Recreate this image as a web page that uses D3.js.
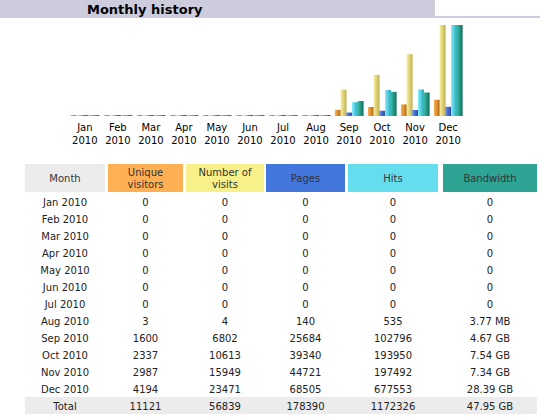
<!DOCTYPE html>
<html><head><meta charset="utf-8">
<script src="https://cdn.jsdelivr.net/npm/d3@7"></script>
<style>body{margin:0;background:#fff;font-family:"DejaVu Sans",Verdana,sans-serif}</style>
</head><body><svg id="c" width="540" height="420"></svg>
<script>
var months = ["Jan","Feb","Mar","Apr","May","Jun","Jul","Aug","Sep","Oct","Nov","Dec"];
var year = "2010";
var visitors = [0,0,0,0,0,0,0,3,1600,2337,2987,4194];
var visits = [0,0,0,0,0,0,0,4,6802,10613,15949,23471];
var pages = [0,0,0,0,0,0,0,140,25684,39340,44721,68505];
var hits = [0,0,0,0,0,0,0,535,102796,193950,197492,677553];
var bwGB = [0,0,0,0,0,0,0,0.00368,4.67,7.54,7.34,28.39];
var bwText = ["0","0","0","0","0","0","0","3.77 MB","4.67 GB","7.54 GB","7.34 GB","28.39 GB"];
var totals = ["Total","11121","56839","178390","1172326","47.95 GB"];
var headers = [["Month"],["Unique","visitors"],["Number of","visits"],["Pages"],["Hits"],["Bandwidth"]];
var colors = ["#ececec","#ffb055","#f8f088","#4477dd","#66ddee","#2ea495"];
var barCols = [["#ffb055","#b06a10"],["#f8f0a0","#c0b050"],["#6b8fe6","#2244aa"],["#88eeff","#22a8b8"],["#3fbfa8","#0e6e5e"]];

var svg = d3.select("#c");
svg.append("rect").attr("x",0).attr("y",0).attr("width",435).attr("height",18).attr("fill","#ccccdd");
svg.append("rect").attr("x",435).attr("y",16).attr("width",105).attr("height",2).attr("fill","#ccccdd");
svg.append("text").attr("x",87).attr("y",14).attr("font-weight","bold").attr("font-size",13).text("Monthly history");

var defs = svg.append("defs");
barCols.forEach(function(c,i){
  var g = defs.append("linearGradient").attr("id","g"+i);
  g.append("stop").attr("offset","0%").attr("stop-color",c[0]);
  g.append("stop").attr("offset","100%").attr("stop-color",c[1]);
});

var x = d3.scaleBand().domain(months).range([68,465]).paddingInner(0.14).paddingOuter(0.08);
var inner = d3.scaleBand().domain([0,1,2,3,4]).range([0,x.bandwidth()]);
var baseY = 116, topY = 25;
var yV = d3.scaleLinear().domain([0,d3.max(visits)]).range([baseY,topY]);
var yH = d3.scaleLinear().domain([0,d3.max(hits)]).range([baseY,topY]);
var yB = d3.scaleLinear().domain([0,d3.max(bwGB)]).range([baseY,topY]);
var series = [[visitors,yV],[visits,yV],[pages,yH],[hits,yH],[bwGB,yB]];

series.forEach(function(s,i){
  svg.append("g").selectAll("rect").data(months).enter().append("rect")
    .attr("x",function(m){return x(m)+inner(i);})
    .attr("width",inner.bandwidth()+0.3)
    .attr("y",function(m,j){return Math.min(s[1](s[0][j]),baseY-1);})
    .attr("height",function(m,j){return Math.max(baseY-s[1](s[0][j]),1);})
    .attr("fill","url(#g"+i+")");
});
var ml = svg.append("g").attr("font-size",10).attr("fill","#000").attr("text-anchor","middle");
months.forEach(function(m){
  var cx = x(m)+x.bandwidth()/2;
  ml.append("text").attr("x",cx).attr("y",131).text(m);
  ml.append("text").attr("x",cx).attr("y",144).text(year);
});

// table
var colX = [25,108,186,266,348,443], colW = [80,75,78,79,90,94];
var tb = svg.append("g").attr("font-size",10).attr("text-anchor","middle");
headers.forEach(function(h,i){
  tb.append("rect").attr("x",colX[i]).attr("y",164).attr("width",colW[i]).attr("height",28).attr("fill",colors[i]);
  h.forEach(function(t,k){
    tb.append("text").attr("x",colX[i]+colW[i]/2).attr("y",h.length==1?182:176+k*12).attr("fill","#333").text(t);
  });
});
var rows = months.map(function(m,j){
  return [m+" "+year,visitors[j],visits[j],pages[j],hits[j],bwText[j]];
});
var ry = d3.scaleBand().domain(d3.range(13)).range([193,414]);
rows.push(totals);
tb.append("rect").attr("x",25).attr("y",ry(12)).attr("width",512).attr("height",ry.bandwidth()).attr("fill","#ececec");
rows.forEach(function(r,j){
  r.forEach(function(v,i){
    tb.append("text").attr("x",colX[i]+colW[i]/2).attr("y",ry(j)+ry.bandwidth()/2+4).attr("fill","#222").text(v);
  });
});
</script></body></html>
